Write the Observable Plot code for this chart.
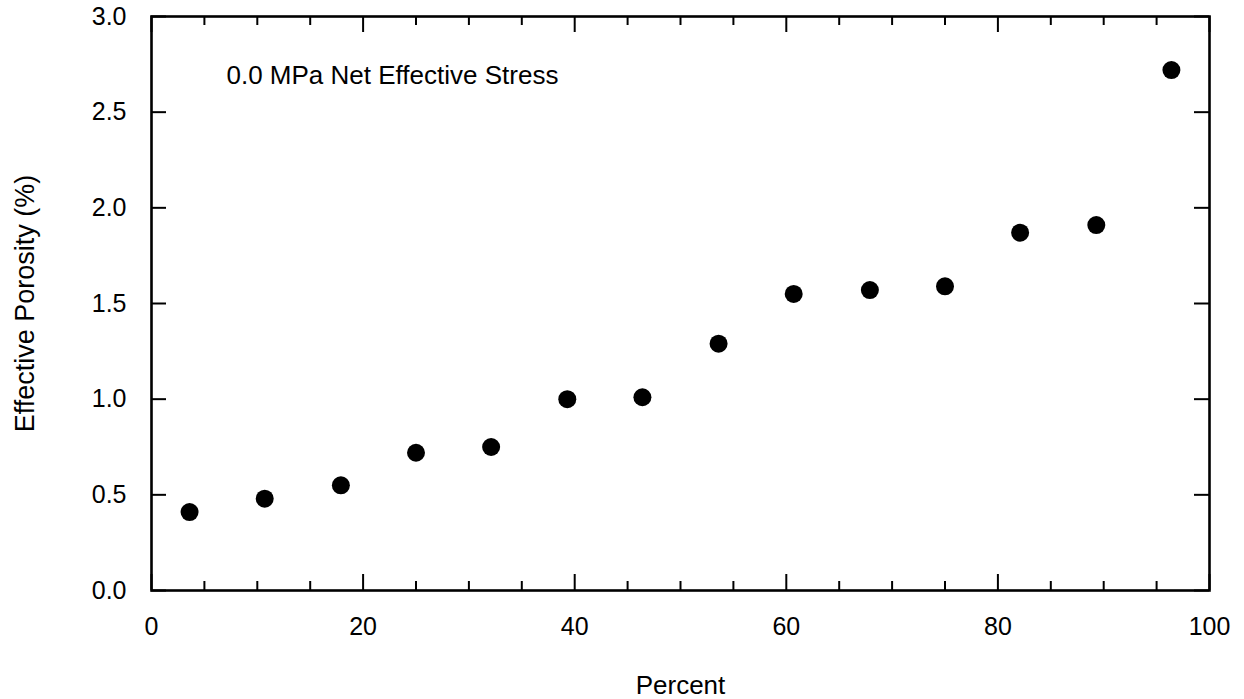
<!DOCTYPE html>
<html><head><meta charset="utf-8">
<script src="https://cdn.jsdelivr.net/npm/d3@7"></script>
<script src="https://cdn.jsdelivr.net/npm/@observablehq/plot@0.6"></script>
<style>body{margin:0;background:#fff}</style>
</head><body><div id="chart"></div>
<script>
const percent = [3.6, 10.7, 17.9, 25.0, 32.1, 39.3, 46.4, 53.6, 60.7, 67.9, 75.0, 82.1, 89.3, 96.4];
const porosity = [0.41, 0.48, 0.55, 0.72, 0.75, 1.00, 1.01, 1.29, 1.55, 1.57, 1.59, 1.87, 1.91, 2.72];
const xMajorTicks = [0, 20, 40, 60, 80, 100];
const xMinorTicks = [5, 10, 15, 25, 30, 35, 45, 50, 55, 65, 70, 75, 85, 90, 95];
const yTicks = [0, 0.5, 1.0, 1.5, 2.0, 2.5, 3.0];
const xLabel = "Percent";
const yLabel = "Effective Porosity (%)";
const annotation = "0.0 MPa Net Effective Stress";

const data = percent.map((p, i) => ({percent: p, porosity: porosity[i]}));

const W = 1244, H = 699, ml = 151, mr = 35, mt = 16, mb = 109;
const innerW = W - ml - mr, innerH = H - mt - mb;
const majorLen = 16, minorLen = 9, yLen = 15;

const chart = Plot.plot({
  width: W, height: H,
  marginLeft: ml, marginRight: mr, marginTop: mt, marginBottom: mb,
  style: {fontFamily: "'Liberation Sans', Arial, sans-serif", fontSize: "24px", background: "#fff", color: "#000"},
  x: {domain: [0, 100]},
  y: {domain: [0, 3]},
  marks: [
    Plot.tickX(xMajorTicks, {x: d => d, insetTop: innerH - majorLen, strokeWidth: 2}),
    Plot.tickX(xMajorTicks, {x: d => d, insetBottom: innerH - majorLen, strokeWidth: 2}),
    Plot.tickX(xMinorTicks, {x: d => d, insetTop: innerH - minorLen, strokeWidth: 2}),
    Plot.tickX(xMinorTicks, {x: d => d, insetBottom: innerH - minorLen, strokeWidth: 2}),
    Plot.tickY(yTicks, {y: d => d, insetRight: innerW - yLen, strokeWidth: 2}),
    Plot.tickY(yTicks, {y: d => d, insetLeft: innerW - yLen, strokeWidth: 2}),
    Plot.frame({stroke: "#000", strokeWidth: 2.6}),
    Plot.axisX(xMajorTicks, {tickSize: 0, tickPadding: 27, tickFormat: d => String(d), label: null, fontSize: 25}),
    Plot.axisY(yTicks, {tickSize: 0, tickPadding: 25, tickFormat: d => d.toFixed(1), label: null, fontSize: 25}),
    Plot.dot(data, {x: "percent", y: "porosity", r: 9, fill: "#000", stroke: "none"}),
    Plot.text([xLabel], {frameAnchor: "bottom", dy: 95, lineAnchor: "middle", text: d => d, fontSize: 26}),
    Plot.text([yLabel], {frameAnchor: "left", dx: -126, rotate: -90, textAnchor: "middle", lineAnchor: "middle", text: d => d, fontSize: 27}),
    Plot.text([annotation], {frameAnchor: "top-left", dx: 75, dy: 59, textAnchor: "start", lineAnchor: "middle", text: d => d, fontSize: 26})
  ]
});
document.getElementById("chart").appendChild(chart);
</script>
</body></html>
